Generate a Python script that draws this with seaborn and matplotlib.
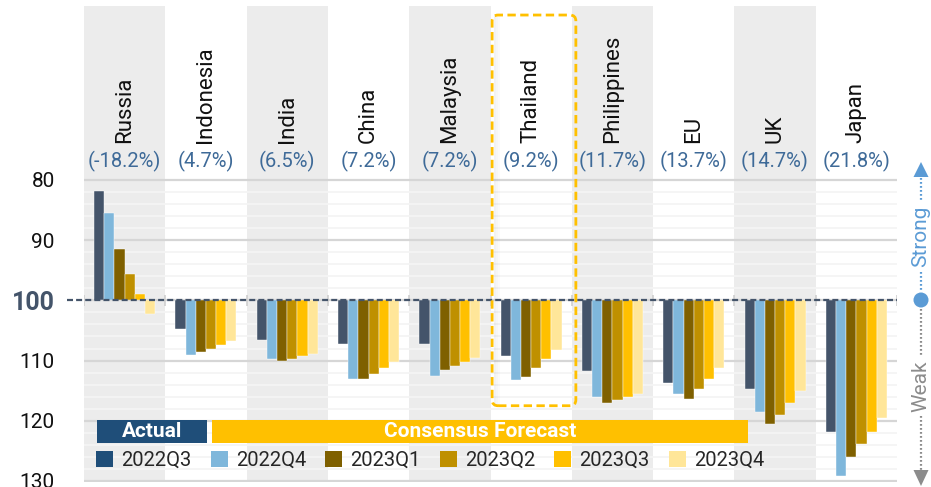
import numpy as np
import pandas as pd
import matplotlib
matplotlib.use("Agg")
import matplotlib.pyplot as plt
import matplotlib.transforms as mtransforms
from matplotlib.patches import FancyBboxPatch, Rectangle, Patch, Circle, Polygon
from matplotlib.lines import Line2D
import seaborn as sns

# Currency index vs. USD (base = 100; larger value = weaker currency)
countries = ["Russia", "Indonesia", "India", "China", "Malaysia", "Thailand",
             "Philippines", "EU", "UK", "Japan"]
quarters = ["2022Q3", "2022Q4", "2023Q1", "2023Q2", "2023Q3", "2023Q4"]
q2022q3 = [81.8, 104.7, 106.5, 107.2, 107.2, 109.2, 111.7, 113.7, 114.7, 121.8]
q2022q4 = [85.5, 109.1, 109.8, 113.1, 112.6, 113.2, 116.1, 115.6, 118.6, 129.1]
q2023q1 = [91.5, 108.5, 110.0, 113.0, 111.6, 112.7, 117.1, 116.3, 120.5, 126.1]
q2023q2 = [95.6, 108.0, 109.7, 112.2, 110.9, 111.3, 116.6, 114.8, 119.0, 123.9]
q2023q3 = [99.0, 107.4, 109.3, 111.3, 110.2, 109.8, 116.1, 113.0, 117.0, 121.8]
q2023q4 = [102.2, 106.8, 108.9, 110.3, 109.6, 108.3, 115.6, 111.3, 115.1, 119.6]
yticks = [80, 90, 100, 110, 120, 130]
highlight = "Thailand"

bar_colors = ["#44546A", "#7FB7DB", "#7F6000", "#BF9000", "#FFC000", "#FFE699"]
legend_colors = ["#1F4E79"] + bar_colors[1:]

sns.set_style("white")
plt.rcParams["font.family"] = ["Roboto", "DejaVu Sans"]

W, H, DPI = 931, 487, 100
fig = plt.figure(figsize=(W / DPI, H / DPI), dpi=DPI)


def fx(px):
    return px / W


def fy(py):
    return 1 - py / H


def inch(px, py):
    return px / DPI, (H - py) / DPI


ax = fig.add_axes([fx(84), fy(482), 813 / W, 476 / H])

df = pd.DataFrame({
    "country": countries * len(quarters),
    "quarter": np.repeat(quarters, len(countries)),
    "value": np.concatenate([q2022q3, q2022q4, q2023q1, q2023q2, q2023q3, q2023q4]),
})
df["dev"] = df["value"] - 100

# alternating column bands
for i in range(0, len(countries), 2):
    ax.axvspan(i - 0.5, i + 0.5, color="#ECECEC", lw=0, zorder=0)

# gridlines from 80 to 130
for v in range(80, 131, 2):
    if v % 10 == 0:
        ax.axhline(v, color="#D6D6D6", lw=1.6, zorder=0.6)
    else:
        ax.axhline(v, color="#F4F4F4", lw=1.3, zorder=0.5)

sns.barplot(data=df, x="country", y="dev", hue="quarter", order=countries,
            hue_order=quarters, palette=bar_colors, saturation=1, width=0.75,
            bottom=100, errorbar=None, legend=False, ax=ax, zorder=2,
            edgecolor="white", linewidth=0.3)

ax.set_xlim(-0.5, len(countries) - 0.5)
ax.set_ylim(130.17, 51.1)
for s in ax.spines.values():
    s.set_visible(False)
ax.set_xlabel("")
ax.set_ylabel("")
ax.tick_params(axis="x", length=0, labelbottom=False)
ax.set_yticks(yticks)
ax.set_yticklabels([str(t) for t in yticks])
ax.tick_params(axis="y", length=0, pad=21, labelsize=15, labelcolor="#111111")
for lbl in ax.get_yticklabels():
    if lbl.get_text() == "100":
        lbl.set_fontweight("bold")
        lbl.set_fontsize(18)
        lbl.set_color("#44546A")

# base line at 100 and column ticks
trans = mtransforms.blended_transform_factory(ax.transAxes, ax.transData)
ax.vlines(np.arange(-0.5, len(countries) + 0.5, 1), 99.1, 100.9,
          color="#CFCFCF", lw=1.2, zorder=3)
ax.plot([(67 - 84) / 813, 1], [100, 100], transform=trans, color="#44546A",
        lw=1.6, ls=(0, (2.7, 1.4)), clip_on=False, zorder=4)

# country names and 2022Q3 change
for i, (c, v) in enumerate(zip(countries, q2022q3)):
    ax.text(i, 73.85, c, rotation=90, ha="center", va="bottom",
            fontsize=16, color="#111111", zorder=5)
    ax.text(i, 76.9, f"({v - 100:.1f}%)", ha="center", va="center",
            fontsize=14.5, color="#3E6A98", zorder=5)

# dashed highlight frame
hi = countries.index(highlight)
x0, y0 = ax.transData.transform((hi - 0.48, 117.5))
x1, y1 = ax.transData.transform((hi + 0.55, 52.6))
box_x0, box_y0 = x0 / DPI, y0 / DPI
box_w, box_h = (x1 - x0) / DPI, (y1 - y0) / DPI
for k, a in enumerate([0.05, 0.035, 0.02]):
    fig.add_artist(FancyBboxPatch((box_x0 + 0.02 + k * 0.02, box_y0 - 0.01),
                                  0.02, box_h, boxstyle="square,pad=0",
                                  transform=fig.dpi_scale_trans,
                                  facecolor="black", alpha=a, lw=0, zorder=3))
fig.add_artist(FancyBboxPatch((box_x0, box_y0), box_w, box_h,
                              boxstyle="round,pad=0,rounding_size=0.06",
                              transform=fig.dpi_scale_trans, facecolor="none",
                              edgecolor="#FFC000", lw=2.0, ls=(0, (3, 1.6)),
                              zorder=6))

# Actual / Consensus Forecast banners
fig.add_artist(Rectangle((fx(97), fy(443)), 110 / W, 23 / H,
                         transform=fig.transFigure, color="#1F4E79", lw=0))
fig.text(fx(152), fy(431.5), "Actual", ha="center", va="center",
         fontsize=15, fontweight="bold", color="white")
fig.add_artist(Rectangle((fx(212), fy(443)), 536 / W, 23 / H,
                         transform=fig.transFigure, color="#FFC000", lw=0))
fig.text(fx(480), fy(431.5), "Consensus Forecast", ha="center", va="center",
         fontsize=15, fontweight="bold", color="white")

handles = [Patch(facecolor=c, edgecolor="none") for c in legend_colors]
ax.legend(handles=handles, labels=quarters, ncol=6, loc="center left",
          bbox_to_anchor=(fx(96), fy(460.5)), bbox_transform=fig.transFigure,
          frameon=False, fontsize=14.5, handlelength=0.85, handleheight=0.85,
          handletextpad=0.4, columnspacing=0.95, borderpad=0, borderaxespad=0)

# Strong / Weak scale on the right
blue, grey = "#5B9BD5", "#8C8C8C"
xc = 921
fig.add_artist(Polygon([inch(xc, 162), inch(xc - 7.5, 177), inch(xc + 7.5, 177)],
                       closed=True, transform=fig.dpi_scale_trans, color=blue, lw=0))
fig.add_artist(Polygon([inch(xc, 486), inch(xc - 7.5, 470), inch(xc + 7.5, 470)],
                       closed=True, transform=fig.dpi_scale_trans, color=grey, lw=0))
for (ya, yb), col in [((178, 201), blue), ((272, 292), blue),
                      ((309, 356), grey), ((416, 470), grey)]:
    (xa_, ya_), (xb_, yb_) = inch(xc, ya), inch(xc, yb)
    fig.add_artist(Line2D([xa_, xb_], [ya_, yb_], transform=fig.dpi_scale_trans,
                          color=col, lw=1.6, ls=(0, (0.8, 1.0))))
fig.add_artist(Circle(inch(xc, 300), 7.5 / DPI, transform=fig.dpi_scale_trans,
                      color=blue, lw=0))
fig.text(*inch(xc, 236), "Strong", transform=fig.dpi_scale_trans, rotation=90,
         ha="center", va="center", fontsize=15, color=blue)
fig.text(*inch(xc, 386), "Weak", transform=fig.dpi_scale_trans, rotation=90,
         ha="center", va="center", fontsize=15, color=grey)

fig.savefig("out.png", dpi=DPI)
